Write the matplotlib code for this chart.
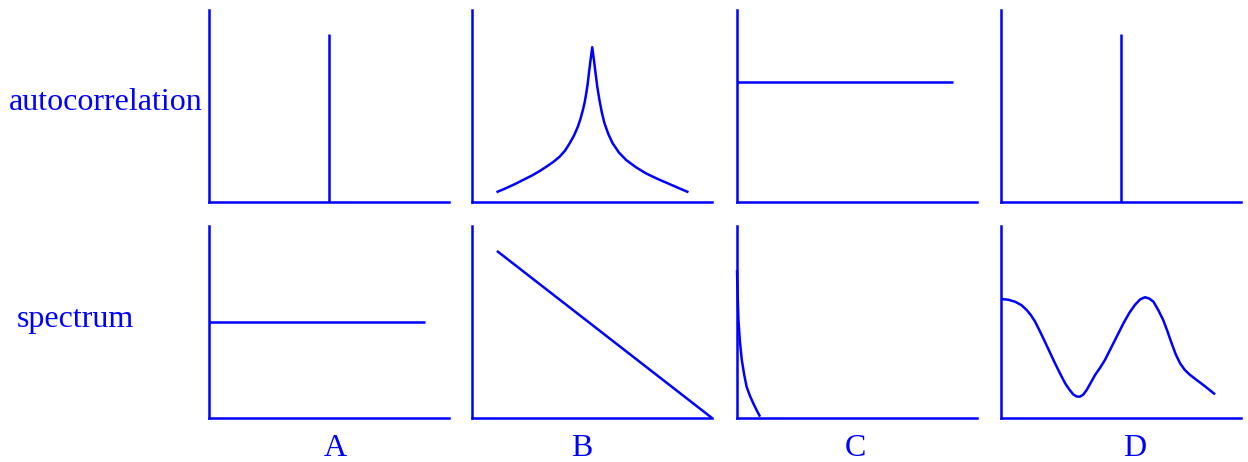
import matplotlib
matplotlib.use("Agg")
import matplotlib.pyplot as plt

BLUE = "#0000ff"
plt.rcParams["font.family"] = ["Liberation Serif", "DejaVu Serif"]

row_labels = ["autocorrelation", "spectrum"]
col_labels = ["A", "B", "C", "D"]

# A / D autocorrelation: single spike at lag 0
spike_x = [0.5, 0.5]
spike_y = [0.0, 0.875]

# B autocorrelation: cusp decaying both sides
acf_b_x = [0.102, 0.140, 0.180, 0.213, 0.250, 0.283, 0.310, 0.340, 0.365, 0.388, 0.407,
           0.425, 0.441, 0.452, 0.462, 0.470, 0.476, 0.482, 0.487, 0.494, 0.501,
           0.508, 0.515, 0.522, 0.531, 0.541, 0.552, 0.568, 0.586, 0.612, 0.642,
           0.682, 0.725, 0.772, 0.822, 0.862, 0.902]
acf_b_y = [0.051, 0.071, 0.094, 0.115, 0.138, 0.162, 0.184, 0.210, 0.236, 0.268, 0.306,
           0.346, 0.392, 0.433, 0.479, 0.522, 0.566, 0.615, 0.670, 0.740, 0.806,
           0.740, 0.670, 0.600, 0.531, 0.466, 0.410, 0.354, 0.306, 0.258, 0.219,
           0.182, 0.149, 0.121, 0.094, 0.072, 0.051]

# C autocorrelation: constant
acf_c_x = [0.0, 0.9]
acf_c_y = [0.625, 0.625]

# A spectrum: flat (white)
spec_a_x = [0.0, 0.9]
spec_a_y = [0.5, 0.5]

# B spectrum: straight decreasing line
spec_b_x = [0.104, 1.0]
spec_b_y = [0.87, 0.0]

# C spectrum: sharp decay near zero
spec_c_x = [0.0, 0.003, 0.006, 0.012, 0.020, 0.030, 0.040, 0.054, 0.068, 0.082, 0.096]
spec_c_y = [0.77, 0.63, 0.51, 0.40, 0.302, 0.225, 0.163, 0.115, 0.076, 0.040, 0.007]

# D spectrum: two humps
spec_d_x = [0.0, 0.030, 0.058, 0.085, 0.107, 0.125, 0.142, 0.162, 0.183, 0.204, 0.225,
            0.246, 0.267, 0.285, 0.301, 0.315, 0.329, 0.343, 0.357, 0.375, 0.392,
            0.413, 0.433, 0.454, 0.475, 0.496, 0.510, 0.535, 0.558, 0.580, 0.600,
            0.618, 0.635, 0.655, 0.676, 0.694, 0.711, 0.728, 0.746, 0.766, 0.788,
            0.815, 0.843, 0.868, 0.892]
spec_d_y = [0.620, 0.616, 0.606, 0.588, 0.5625, 0.535, 0.502, 0.452, 0.397, 0.341, 0.285,
            0.232, 0.181, 0.148, 0.123, 0.112, 0.111, 0.122, 0.146, 0.186, 0.224,
            0.262, 0.302, 0.354, 0.406, 0.458, 0.493, 0.548, 0.589, 0.618, 0.629,
            0.622, 0.606, 0.563, 0.510, 0.450, 0.389, 0.332, 0.285, 0.250, 0.224,
            0.198, 0.172, 0.147, 0.123]

top = [(spike_x, spike_y), (acf_b_x, acf_b_y), (acf_c_x, acf_c_y), (spike_x, spike_y)]
bottom = [(spec_a_x, spec_a_y), (spec_b_x, spec_b_y), (spec_c_x, spec_c_y), (spec_d_x, spec_d_y)]

W, H = 1248, 462
fig = plt.figure(figsize=(W / 100, H / 100), dpi=100)

lefts = [209, 472, 737, 1001]
row_bottoms = [202, 418]

for r, series in enumerate([top, bottom]):
    for c, (xs, ys) in enumerate(series):
        ax = fig.add_axes([lefts[c] / W, (H - row_bottoms[r]) / H, 240 / W, 192 / H])
        ax.plot(xs, ys, color=BLUE, lw=1.8, clip_on=False,
                solid_joinstyle="round", solid_capstyle="butt")
        ax.set_xlim(0, 1)
        ax.set_ylim(0, 1)
        for s in ["top", "right"]:
            ax.spines[s].set_visible(False)
        for s in ["left", "bottom"]:
            ax.spines[s].set_color(BLUE)
            ax.spines[s].set_linewidth(1.8)
        ax.set_xticks([])
        ax.set_yticks([])
        ax.patch.set_alpha(0)

fig.text(203 / W, 1 - 103 / H, row_labels[0], ha="right", va="center", color=BLUE, fontsize=23)
fig.text(17 / W, 1 - 320 / H, row_labels[1], ha="left", va="center", color=BLUE, fontsize=23)

for lab, xc in zip(col_labels, [335, 582, 855, 1135]):
    fig.text(xc / W, 1 - 449 / H, lab, ha="center", va="center", color=BLUE, fontsize=23)

fig.savefig("out.png", dpi=100)
